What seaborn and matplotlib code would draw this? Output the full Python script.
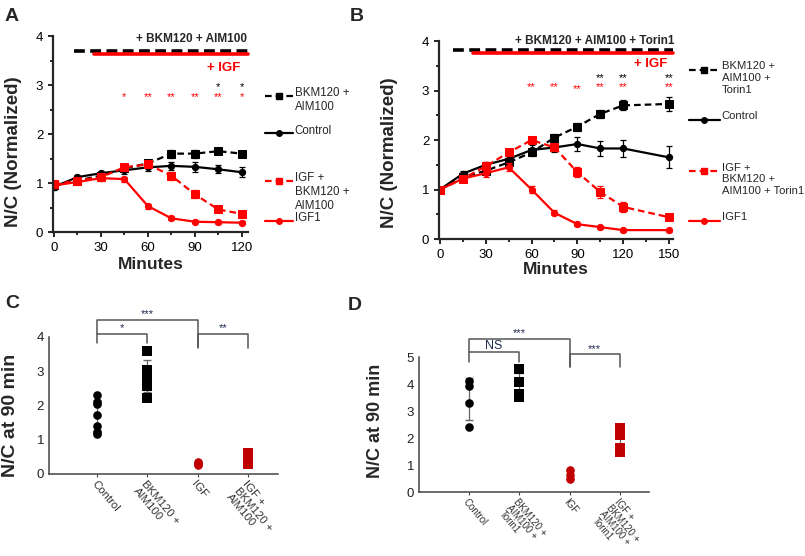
import numpy as np
import pandas as pd
import matplotlib
matplotlib.use('Agg')
import matplotlib.pyplot as plt
import seaborn as sns
from matplotlib.ticker import MultipleLocator

# ---- Panel A data (minutes, N/C normalized) ----
time_a = [0, 15, 30, 45, 60, 75, 90, 105, 120]
a_bkm = [0.95, 1.05, 1.15, 1.30, 1.40, 1.60, 1.60, 1.65, 1.60]
a_bkm_err = [0.05, 0.04, 0.05, 0.06, 0.07, 0.08, 0.08, 0.06, 0.06]
a_control = [0.92, 1.12, 1.20, 1.26, 1.32, 1.35, 1.33, 1.28, 1.22]
a_control_err = [0.06, 0.05, 0.05, 0.07, 0.08, 0.08, 0.10, 0.08, 0.10]
a_igf_bkm = [0.97, 1.05, 1.12, 1.32, 1.38, 1.15, 0.77, 0.46, 0.37]
a_igf_bkm_err = [0.06, 0.05, 0.06, 0.05, 0.06, 0.08, 0.08, 0.05, 0.04]
a_igf1 = [0.95, 1.02, 1.10, 1.08, 0.53, 0.28, 0.21, 0.20, 0.19]
a_igf1_err = [0.06, 0.05, 0.05, 0.05, 0.05, 0.04, 0.03, 0.03, 0.03]

# ---- Panel B data ----
time_b = [0, 15, 30, 45, 60, 75, 90, 105, 120, 150]
b_bkm = [1.0, 1.25, 1.38, 1.55, 1.75, 2.05, 2.27, 2.53, 2.70, 2.73]
b_bkm_err = [0.02, 0.05, 0.06, 0.07, 0.08, 0.07, 0.08, 0.08, 0.10, 0.15]
b_control = [1.0, 1.32, 1.50, 1.62, 1.80, 1.85, 1.92, 1.83, 1.83, 1.65]
b_control_err = [0.02, 0.06, 0.06, 0.08, 0.10, 0.10, 0.15, 0.15, 0.17, 0.22]
b_igf_bkm = [1.0, 1.22, 1.47, 1.75, 2.00, 1.85, 1.35, 0.95, 0.65, 0.44]
b_igf_bkm_err = [0.02, 0.06, 0.08, 0.07, 0.06, 0.08, 0.10, 0.12, 0.10, 0.05]
b_igf1 = [1.0, 1.22, 1.33, 1.45, 1.00, 0.53, 0.30, 0.24, 0.18, 0.18]
b_igf1_err = [0.02, 0.06, 0.08, 0.08, 0.08, 0.05, 0.04, 0.03, 0.03, 0.03]

# significance stars above the time courses
a_red_t = [45, 60, 75, 90, 105, 120]
a_red_s = ['*', '**', '**', '**', '**', '*']
a_black_t = [105, 120]
a_black_s = ['*', '*']
b_red_t = [60, 75, 90, 105, 120, 150]
b_black_t = [105, 120, 150]

# ---- Panel C / D data (N/C at 90 min) ----
groups_c = ['Control', 'BKM120 +\nAIM100', 'IGF', 'IGF +\nBKM120 +\nAIM100']
values_c = [[2.31, 2.11, 2.03, 1.72, 1.40, 1.24, 1.16],
            [3.60, 3.05, 2.92, 2.79, 2.57, 2.21],
            [0.25, 0.30, 0.35],
            [0.30, 0.40, 0.50, 0.60]]
groups_d = ['Control', 'BKM120 +\nAIM100 +\nTorin1', 'IGF',
            'IGF +\nBKM120 +\nAIM100 +\nTorin1']
values_d = [[4.11, 3.94, 3.31, 2.40],
            [4.54, 4.06, 3.63, 3.53],
            [0.81, 0.63, 0.47],
            [2.36, 2.11, 1.62, 1.49]]
# brackets: (left group, right group, top, left drop, right drop, label)
brackets_c = [(0, 1, 4.08, 3.81, 3.81, '*'), (0, 2, 4.50, 4.08, 3.72, '***'),
              (2, 3, 4.08, 3.69, 3.69, '**')]
brackets_d = [(0, 1, 5.17, 4.83, 4.83, 'NS'), (0, 2, 5.67, 5.17, 4.64, '***'),
              (2, 3, 5.10, 4.64, 4.64, '***')]

RED = '#ff0000'
DARKRED = '#c00000'

sns.set_style('ticks')
plt.rcParams['font.family'] = ['Liberation Sans', 'DejaVu Sans']

fig = plt.figure(figsize=(8.05, 5.56), dpi=100)
axA = fig.add_axes([0.0658, 0.5827, 0.242, 0.3525])
axB = fig.add_axes([0.5453, 0.5701, 0.2907, 0.356])
axC = fig.add_axes([0.0609, 0.1475, 0.2845, 0.2834])
axD = fig.add_axes([0.5205, 0.1151, 0.2857, 0.2865])

dash = (0, (3, 1.8))


def time_course(ax, t, series, xlim, xmax_tick):
    for y, err, color, marker, ls, ms in series:
        sns.lineplot(x=t, y=y, ax=ax, color=color, marker=marker, linestyle=ls,
                     lw=1.6, markersize=ms, markeredgecolor=color, errorbar=None)
        ax.errorbar(t, y, yerr=err, fmt='none', ecolor=color, elinewidth=0.9,
                    capsize=2.5, capthick=0.9)
    ax.set_xlim(*xlim)
    ax.set_ylim(0, 4)
    ax.set_xticks(range(0, xmax_tick + 1, 30))
    ax.xaxis.set_minor_locator(MultipleLocator(15))
    ax.set_yticks(range(0, 5))
    ax.yaxis.set_minor_locator(MultipleLocator(0.5))
    ax.tick_params(which='both', direction='out', width=1.2, labelsize=9.5,
                   colors='black')
    ax.tick_params(which='major', length=3.5)
    ax.tick_params(which='minor', length=2.5)
    for s in ['left', 'bottom']:
        ax.spines[s].set_linewidth(1.6)
    sns.despine(ax=ax)
    ax.set_xlabel('Minutes', fontsize=12.5, fontweight='bold')
    ax.set_ylabel('N/C (Normalized)', fontsize=13.5, fontweight='bold')


def legend_entry(ax, x0, x1, y, label, color, marker, ls, ms, size=8.3):
    tr = ax.get_yaxis_transform()
    ax.plot([x0, (x0 + x1) / 2, x1], [y, y, y], transform=tr, color=color,
            ls=ls, lw=1.6, marker=marker, markevery=[1], markersize=ms,
            clip_on=False)
    ax.annotate(label, xy=(x1, y), xycoords=tr, xytext=(1.5, 6),
                textcoords='offset points', fontsize=size, va='top', ha='left',
                linespacing=1.2)


# ---- Panel A ----
series_a = [(a_bkm, a_bkm_err, 'black', 's', dash, 5.5),
            (a_control, a_control_err, 'black', 'o', '-', 4.5),
            (a_igf_bkm, a_igf_bkm_err, RED, 's', dash, 5.5),
            (a_igf1, a_igf1_err, RED, 'o', '-', 4.5)]
time_course(axA, time_a, series_a, (-0.6, 123.8), 120)
axA.plot([13, 123.8], [3.70, 3.70], color='black', lw=2.6, ls=(0, (3, 1.5)),
         clip_on=False)
axA.plot([25.5, 123.8], [3.63, 3.63], color=RED, lw=2.6, clip_on=False)
axA.text(123.5, 3.93, '+ BKM120 + AIM100', ha='right', va='center',
         fontsize=8.5, fontweight='bold')
axA.text(119, 3.34, '+ IGF', ha='right', va='center', fontsize=9.5,
         fontweight='bold', color=RED)
for t, s in zip(a_red_t, a_red_s):
    axA.text(t, 2.76, s, ha='center', va='center', color=RED, fontsize=8)
for t, s in zip(a_black_t, a_black_s):
    axA.text(t, 2.95, s, ha='center', va='center', color='black', fontsize=8)
legend_entry(axA, 1.087, 1.23, 2.78, 'BKM120 +\nAIM100', 'black', 's', dash, 5)
legend_entry(axA, 1.087, 1.23, 2.02, 'Control', 'black', 'o', '-', 4)
legend_entry(axA, 1.087, 1.23, 1.05, 'IGF +\nBKM120 +\nAIM100', RED, 's', dash, 5)
legend_entry(axA, 1.087, 1.23, 0.23, 'IGF1', RED, 'o', '-', 4)
axA.yaxis.set_label_coords(-0.16, 0.41)
axA.xaxis.set_label_coords(0.5, -0.125)

# ---- Panel B ----
series_b = [(b_bkm, b_bkm_err, 'black', 's', dash, 5.5),
            (b_control, b_control_err, 'black', 'o', '-', 4.5),
            (b_igf_bkm, b_igf_bkm_err, RED, 's', dash, 5.5),
            (b_igf1, b_igf1_err, RED, 'o', '-', 4.5)]
time_course(axB, time_b, series_b, (-0.65, 152.6), 150)
axB.plot([8.5, 152.6], [3.83, 3.83], color='black', lw=2.6, ls=(0, (3, 1.5)),
         clip_on=False)
axB.plot([21.4, 152.6], [3.76, 3.76], color=RED, lw=2.6, clip_on=False)
axB.text(153.5, 4.0, '+ BKM120 + AIM100 + Torin1', ha='right', va='center',
         fontsize=8.5, fontweight='bold')
axB.text(149, 3.54, '+ IGF', ha='right', va='center', fontsize=9.5,
         fontweight='bold', color=RED)
for t in b_red_t:
    axB.text(t, 3.03 if t == 90 else 3.07, '**', ha='center', va='center',
             color=RED, fontsize=8)
for t in b_black_t:
    axB.text(t, 3.26, '**', ha='center', va='center', color='black',
             fontsize=8)
legend_entry(axB, 1.068, 1.2, 3.42, 'BKM120 +\nAIM100 +\nTorin1', 'black', 's', dash, 5, 8.1)
legend_entry(axB, 1.068, 1.2, 2.41, 'Control', 'black', 'o', '-', 4, 8.1)
legend_entry(axB, 1.068, 1.2, 1.37, 'IGF +\nBKM120 +\nAIM100 + Torin1', RED, 's', dash, 5, 8.1)
legend_entry(axB, 1.068, 1.2, 0.37, 'IGF1', RED, 'o', '-', 4, 8.1)
axB.yaxis.set_label_coords(-0.175, 0.434)
axB.xaxis.set_label_coords(0.5, -0.118)


# ---- Panels C and D ----
def dot_panel(ax, groups, values, brackets, ylim, ymax_tick, xlim, label_size,
              tick_size, spacing):
    styles = [('black', 'o', 6.2), ('black', 's', 7.6), (DARKRED, 'o', 6.2),
              (DARKRED, 's', 7.6)]
    for i, (g, vals) in enumerate(zip(groups, values)):
        color, marker, size = styles[i]
        sns.stripplot(x=[g] * len(vals), y=vals, order=groups, jitter=False,
                      color=color, marker=marker, size=size, linewidth=0,
                      ax=ax, zorder=3)
        ax.errorbar(i, np.mean(vals), yerr=np.std(vals, ddof=1), fmt='none',
                    ecolor='#666666', elinewidth=0.9, capsize=3, zorder=2)
    for x1, x2, top, d1, d2, lab in brackets:
        ax.plot([x1, x1, x2, x2], [d1, top, top, d2], color='#555555', lw=1.1,
                clip_on=False)
        ax.text((x1 + x2) / 2, top + 0.02, lab, ha='center', va='bottom',
                fontsize=9 if lab == 'NS' else 8, color='#1f2a50')
    ax.set_xlim(*xlim)
    ax.set_ylim(*ylim)
    ax.set_yticks(range(0, ymax_tick + 1))
    ax.spines['left'].set_bounds(0, ymax_tick)
    sns.despine(ax=ax)
    for s in ['left', 'bottom']:
        ax.spines[s].set_linewidth(1.1)
        ax.spines[s].set_color('#444444')
    ax.set_xticks(range(len(groups)))
    ax.set_xticklabels(groups, rotation=-50, ha='left', va='top',
                       rotation_mode='anchor', fontsize=tick_size,
                       color='#333333', linespacing=spacing)
    ax.tick_params(axis='y', length=0, labelsize=9.5, colors='#222222')
    ax.tick_params(axis='x', length=2.5, color='#444444', pad=1)
    ax.set_xlabel('')
    ax.set_ylabel('N/C at 90 min', fontsize=label_size, fontweight='bold')


dot_panel(axC, groups_c, values_c, brackets_c, (0, 4.6), 4, (-0.955, 3.6),
          14, 8.2, 1.02)
axC.yaxis.set_label_coords(-0.13, 0.37)
dot_panel(axD, groups_d, values_d, brackets_d, (0, 5.9), 5, (-0.994, 3.58),
          13, 7.0, 0.95)
axD.yaxis.set_label_coords(-0.152, 0.446)

# panel letters
for lab, x, y in [('A', 0.006, 0.985), ('B', 0.434, 0.985),
                  ('C', 0.006, 0.47), ('D', 0.432, 0.465)]:
    fig.text(x, y, lab, fontsize=14, fontweight='bold', va='top', ha='left')

fig.savefig('out.png', dpi=100)
